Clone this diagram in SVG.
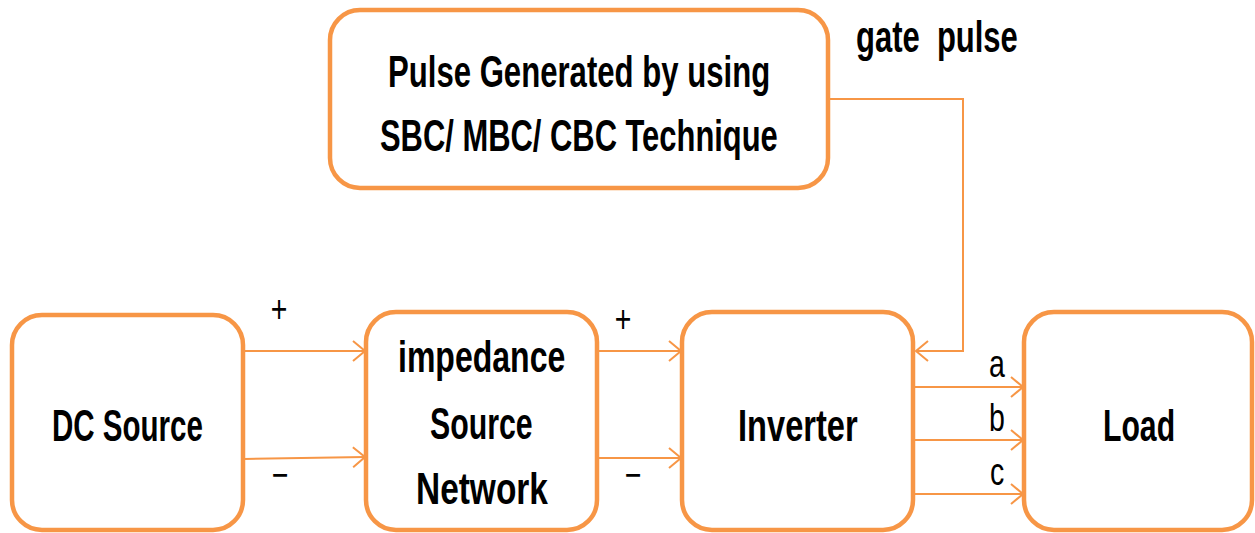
<svg xmlns="http://www.w3.org/2000/svg" width="1255" height="533" viewBox="0 0 1255 533">
<defs>
<style>
.box{fill:#fff;stroke:#F79646;stroke-width:4.5}
.con{fill:none;stroke:#F79646;stroke-width:2}
.t{font-family:"Liberation Sans",Arial,sans-serif;font-weight:bold;font-size:45px;fill:#000}
.l{font-family:"Liberation Sans",Arial,sans-serif;font-size:38px;fill:#000}
</style>
<marker id="arr" viewBox="0 0 14 22" refX="13" refY="11" markerWidth="14" markerHeight="22" markerUnits="userSpaceOnUse" orient="auto">
<path d="M1,1 L13,11 L1,21" fill="none" stroke="#F79646" stroke-width="2"/>
</marker>
</defs>
<rect width="1255" height="533" fill="#fff"/>
<g id="connectors">
<path class="con" d="M244,351 H365" marker-end="url(#arr)"/>
<path class="con" d="M244,459 L365,457" marker-end="url(#arr)"/>
<path class="con" d="M598,351 H681" marker-end="url(#arr)"/>
<path class="con" d="M598,458 H681" marker-end="url(#arr)"/>
<path class="con" d="M828,99 H963 V351 H916" marker-end="url(#arr)"/>
<path class="con" d="M914,387 H1023" marker-end="url(#arr)"/>
<path class="con" d="M914,440 H1023" marker-end="url(#arr)"/>
<path class="con" d="M914,494 H1023" marker-end="url(#arr)"/>
<text class="l" transform="translate(279,322) scale(0.75,1)" text-anchor="middle">+</text>
<text class="l" transform="translate(623,332) scale(0.75,1)" text-anchor="middle">+</text>
<text class="l" transform="translate(280,488) scale(0.75,1)" text-anchor="middle">−</text>
<text class="l" transform="translate(633,488) scale(0.75,1)" text-anchor="middle">−</text>
<text class="l" transform="translate(997,377) scale(0.75,1)" text-anchor="middle">a</text>
<text class="l" transform="translate(997,431) scale(0.75,1)" text-anchor="middle">b</text>
<text class="l" transform="translate(997,485) scale(0.75,1)" text-anchor="middle">c</text>
<text class="t" transform="translate(856,52) scale(0.68,1)" xml:space="preserve" textLength="238" lengthAdjust="spacingAndGlyphs">gate  pulse</text>
</g>
<g id="pulse">
<rect class="box" x="330" y="10" width="498" height="178" rx="30"/>
<text class="t" transform="translate(388,87) scale(0.68,1)" textLength="562" lengthAdjust="spacingAndGlyphs">Pulse Generated by using</text>
<text class="t" transform="translate(380,151) scale(0.68,1)" textLength="585" lengthAdjust="spacingAndGlyphs">SBC/ MBC/ CBC Technique</text>
</g>
<g id="dc">
<rect class="box" x="12" y="315" width="231" height="215" rx="30"/>
<text class="t" transform="translate(52,441) scale(0.68,1)" textLength="222" lengthAdjust="spacingAndGlyphs">DC Source</text>
</g>
<g id="impedance">
<rect class="box" x="366" y="312" width="231" height="218" rx="30"/>
<text class="t" transform="translate(398,372) scale(0.68,1)" textLength="246" lengthAdjust="spacingAndGlyphs">impedance</text>
<text class="t" transform="translate(430,439) scale(0.68,1)" textLength="151" lengthAdjust="spacingAndGlyphs">Source</text>
<text class="t" transform="translate(416,504) scale(0.68,1)" textLength="194" lengthAdjust="spacingAndGlyphs">Network</text>
</g>
<g id="inverter">
<rect class="box" x="682" y="312" width="231" height="218" rx="30"/>
<text class="t" transform="translate(738,441) scale(0.68,1)" textLength="176" lengthAdjust="spacingAndGlyphs">Inverter</text>
</g>
<g id="load">
<rect class="box" x="1024" y="312" width="228" height="218" rx="30"/>
<text class="t" transform="translate(1103,441) scale(0.68,1)" textLength="106" lengthAdjust="spacingAndGlyphs">Load</text>
</g>
</svg>
